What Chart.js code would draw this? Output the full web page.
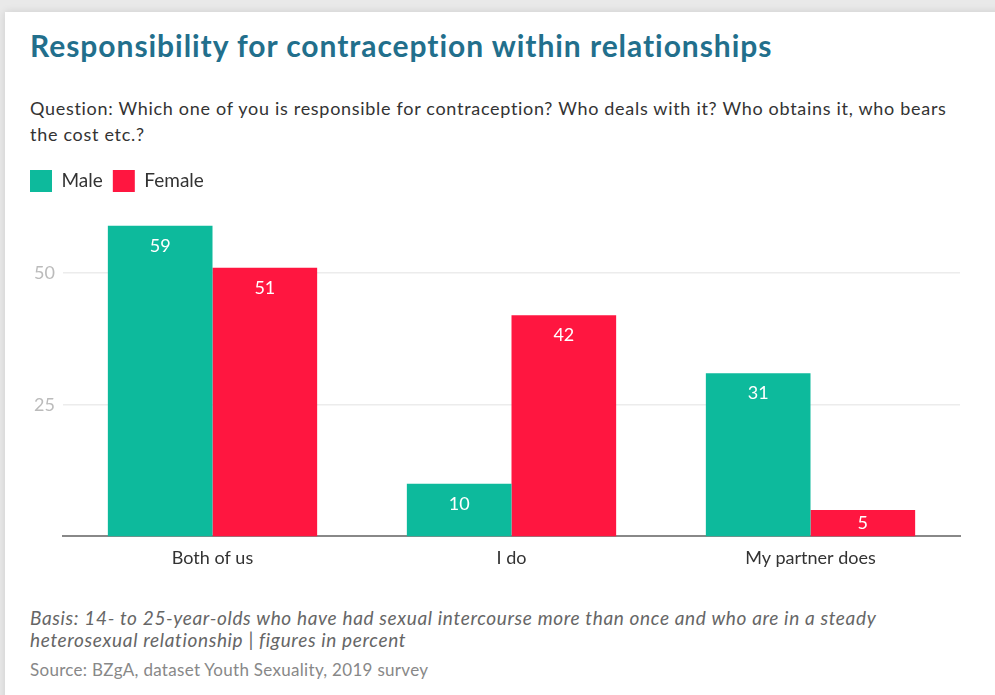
<!DOCTYPE html>
<html>
<head>
<meta charset="utf-8">
<script src="https://cdn.jsdelivr.net/npm/chart.js@4/dist/chart.umd.min.js"></script>
<style>
  html, body { margin: 0; padding: 0; }
  body { width: 995px; height: 695px; background: #e9e9e9; position: relative; overflow: hidden; font-family: Lato, "Open Sans", sans-serif; }
  #card { position: absolute; left: 5px; top: 12px; width: 1000px; height: 700px; background: #fff; box-shadow: 0 0 8px rgba(0,0,0,0.12); }
  .txt { position: absolute; margin: 0; white-space: nowrap; }
  #title { left: 30px; top: 27px; font-size: 30px; font-weight: 700; color: #226f8c; letter-spacing: 0.95px; }
  #question { left: 30px; top: 95px; font-size: 18px; line-height: 26px; color: #333; letter-spacing: 0.7px; }
  #chartbox { position: absolute; left: 0; top: 155px; width: 995px; height: 425px; }
  #basis { left: 30px; top: 607px; font-size: 19px; line-height: 22px; font-style: italic; color: #666; letter-spacing: 0.65px; }
  #source { left: 30px; top: 659px; font-size: 17px; color: #888; letter-spacing: 0.3px; }
</style>
</head>
<body>
<div id="card"></div>
<h1 class="txt" id="title">Responsibility for contraception within relationships</h1>
<p class="txt" id="question">Question: Which one of you is responsible for contraception? Who deals with it? Who obtains it, who bears<br>the cost etc.?</p>
<div id="chartbox"><canvas id="c"></canvas></div>
<p class="txt" id="basis">Basis: 14- to 25-year-olds who have had sexual intercourse more than once and who are in a steady<br>heterosexual relationship | figures in percent</p>
<p class="txt" id="source">Source: BZgA, dataset Youth Sexuality, 2019 survey</p>
<script>
// Survey answers (percent)
const categories = ["Both of us", "I do", "My partner does"];
const maleValues = [59, 10, 31];
const femaleValues = [51, 42, 5];
const yTicks = [25, 50];

const MALE_COLOR = "#0dba9c";
const FEMALE_COLOR = "#ff1640";

// Writes each bar's value in white just below its top edge
// (centred inside bars too short for the usual offset)
const barValues = {
  id: "barValues",
  afterDatasetsDraw(chart) {
    const ctx = chart.ctx;
    ctx.save();
    ctx.fillStyle = "#ffffff";
    ctx.font = "18px Lato, sans-serif";
    ctx.textAlign = "center";
    ctx.textBaseline = "middle";
    chart.data.datasets.forEach((ds, i) => {
      chart.getDatasetMeta(i).data.forEach((bar, j) => {
        const offset = Math.min(20, (bar.base - bar.y) / 2);
        ctx.fillText(String(ds.data[j]), bar.x, bar.y + offset);
      });
    });
    ctx.restore();
  }
};

new Chart(document.getElementById("c"), {
  type: "bar",
  data: {
    labels: categories,
    datasets: [
      { label: "Male", data: maleValues, backgroundColor: MALE_COLOR },
      { label: "Female", data: femaleValues, backgroundColor: FEMALE_COLOR }
    ]
  },
  options: {
    responsive: true,
    maintainAspectRatio: false,
    animation: false,
    layout: { padding: { left: 20, right: 35, top: 5, bottom: 0 } },
    datasets: { bar: { categoryPercentage: 0.7, barPercentage: 1.0 } },
    plugins: {
      legend: {
        position: "top",
        align: "start",
        labels: {
          boxWidth: 22, boxHeight: 22, padding: 10,
          color: "#333",
          font: { family: "Lato, sans-serif", size: 19 }
        }
      },
      tooltip: { enabled: false }
    },
    scales: {
      x: {
        grid: { display: false, drawTicks: false },
        border: { color: "#888", width: 2 },
        ticks: { color: "#333", padding: 11, font: { family: "Lato, sans-serif", size: 18 } }
      },
      y: {
        min: 0,
        max: 63.5,
        afterFit(scale) { scale.width = 43; },
        afterBuildTicks(scale) { scale.ticks = yTicks.map(v => ({ value: v })); },
        grid: { color: "#ececec", lineWidth: 1.5, drawTicks: false },
        border: { display: false },
        ticks: { color: "#bbb", padding: 8, font: { family: "Lato, sans-serif", size: 18 } }
      }
    }
  },
  plugins: [barValues]
});
</script>
</body>
</html>
